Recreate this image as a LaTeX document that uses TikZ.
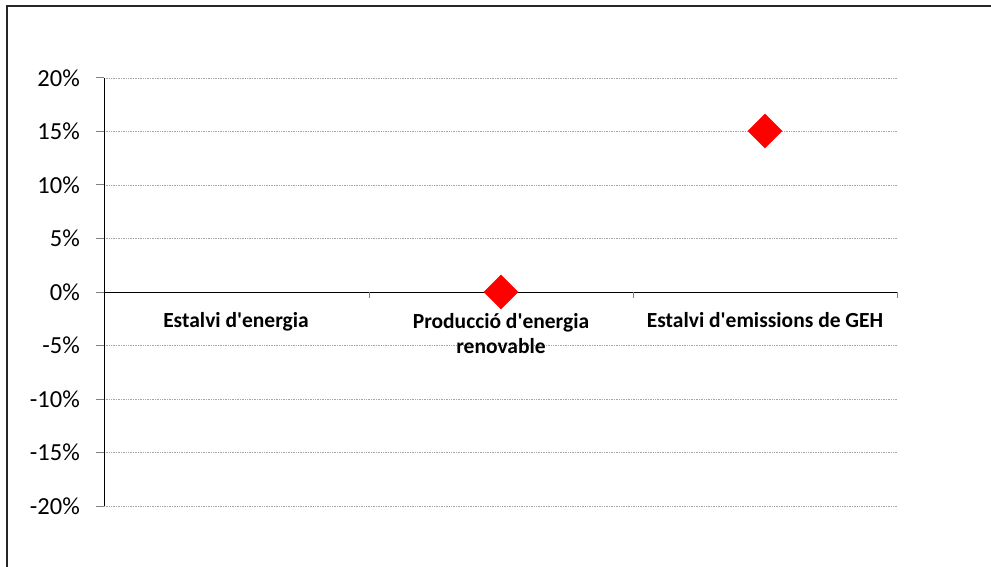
\documentclass[tikz,border=0pt]{standalone}
\usepackage{fontspec}
\setmainfont{Carlito}
\usetikzlibrary{shapes.geometric,positioning}

\begin{document}
\begin{tikzpicture}[x=1pt, y=-1pt,
                    frame/.style = {black!85, line width=1.3pt},
                    gridline/.style = {gray!70, densely dotted, line width=0.7pt},
                    axisline/.style = {black, line width=1pt},
                    tickmark/.style = {gray, line width=1pt},
                    ticklabel/.style = {anchor=east, inner sep=0pt, font=\fontsize{24.5}{24.5}\selectfont},
                    catlabel/.style = {align=center, anchor=base, inner sep=0pt, font=\fontsize{21.5}{25}\selectfont\bfseries},
                    marker/.style = {diamond, fill=red, inner sep=0pt, minimum size=35pt}
                ]

                \useasboundingbox (0,0) rectangle (991,567);
                \clip (0,0) rectangle (991,567);
                \draw[frame] (7,6) rectangle (1010,600);

                % grid and y ticks
                \foreach \v in {20,15,...,-20}{
                    \ifnum\v=0\else
                        \draw[gridline] (104,292-\v*10.7) -- (897,292-\v*10.7);
                    \fi
                    \draw[tickmark] (96,292-\v*10.7) -- (104,292-\v*10.7);
                    \node[ticklabel] (lbl\v) at (80,292-\v*10.7) {\v\%};
                }

                % axes
                \draw[axisline] (104,78) -- (104,506);
                \draw[axisline] (104,292) -- (897,292);
                \foreach \xt in {369,633,897}
                    \draw[tickmark] (\xt,292) -- (\xt,298);

                % categories (base = last line)
                \node[catlabel] (cat1) at (236,327) {Estalvi d\textquotesingle energia};
                \node[catlabel] (cat2) at (501,353) {Producció d\textquotesingle energia\\renovable};
                \node[catlabel] (cat3) at (765,327) {Estalvi d\textquotesingle emissions de GEH};

                % values
                \node[marker] (pt2) at (501,292) {};
                \node[marker] (pt3) at (765,131) {};

            \end{tikzpicture}
\end{document}
